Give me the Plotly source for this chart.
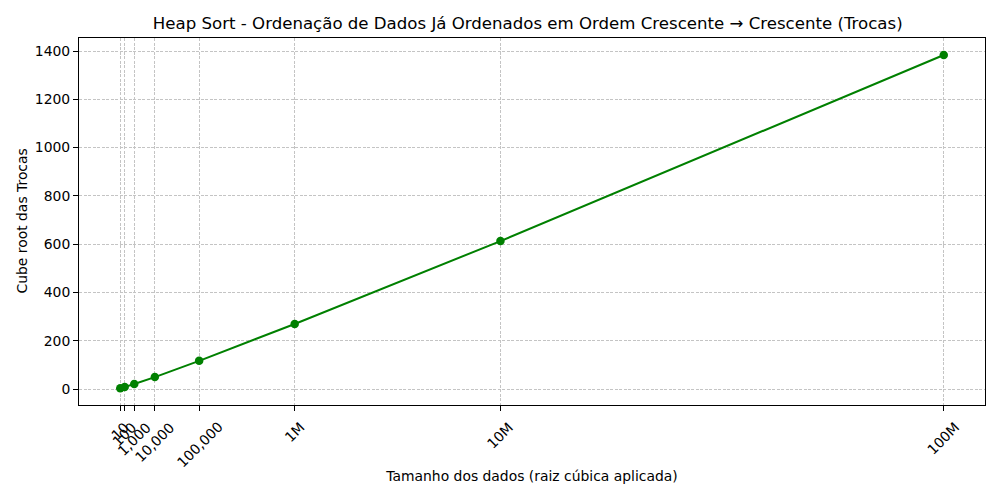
import numpy as np
import plotly.graph_objects as go

sizes = [10, 100, 1000, 10000, 100000, 1000000, 10000000, 100000000]
tick_labels = ["10", "100", "1,000", "10,000", "100,000", "1M", "10M", "100M"]
cbrt_swaps = [3.0, 8.5, 20.8, 49.5, 117.0, 269.5, 613.0, 1383.5]

x = np.cbrt(np.array(sizes, dtype=float))

W, H = 992, 492  # page body has an 8px margin
fig = go.Figure()
fig.add_trace(go.Scatter(
    x=x, y=cbrt_swaps, mode="lines+markers",
    line=dict(color="#008000", width=2),
    marker=dict(color="#008000", size=8.5),
    showlegend=False,
))

font = "DejaVu Sans, sans-serif"
fs = 13.9
for xv, lab in zip(x, tick_labels):
    fig.add_annotation(
        x=xv, xref="x", y=0, yref="paper", text=lab, showarrow=False,
        textangle=-45, xanchor="center", yanchor="top", yshift=-11,
        font=dict(size=fs, family=font, color="black"),
    )

# y-axis title
fig.add_annotation(
    x=(21 - 79) / 906, xref="paper", y=0.5, yref="paper", text="Cube root das Trocas",
    showarrow=False, textangle=-90, xanchor="center", yanchor="middle",
    font=dict(size=fs, family=font, color="black"),
)

fig.update_layout(
    width=W, height=H,
    margin=dict(l=71, r=15, t=30, b=95, autoexpand=False),
    paper_bgcolor="white", plot_bgcolor="white",
    font=dict(family=font, size=fs, color="black"),
    title=dict(text="Heap Sort - Ordenação de Dados Já Ordenados em Ordem Crescente → Crescente (Trocas)",
               x=(79 + 985) / 2 / 1000 - 8 / W, xanchor="center", y=1 - 15 / H, yanchor="middle",
               font=dict(size=16.6, family=font)),
    xaxis=dict(
        range=[-21.0, 487.3], automargin=False,
        tickvals=x, showticklabels=False,
        showgrid=True, gridcolor="#c4c4c4", gridwidth=0.6, griddash="3px,1.5px",
        zeroline=False, showline=True, linecolor="black", linewidth=1, mirror=True,
        ticks="outside", ticklen=5, tickcolor="black",
        title=dict(text="Tamanho dos dados (raiz cúbica aplicada)", font=dict(size=fs), standoff=61),
    ),
    yaxis=dict(
        range=[-66, 1454], automargin=False,
        tickvals=[0, 200, 400, 600, 800, 1000, 1200, 1400],
        showgrid=True, gridcolor="#c4c4c4", gridwidth=0.6, griddash="3px,1.5px",
        zeroline=False, showline=True, linecolor="black", linewidth=1, mirror=True,
        ticks="outside", ticklen=5, tickcolor="black",
        tickfont=dict(size=fs),
    ),
)

fig.write_html("out.html")
